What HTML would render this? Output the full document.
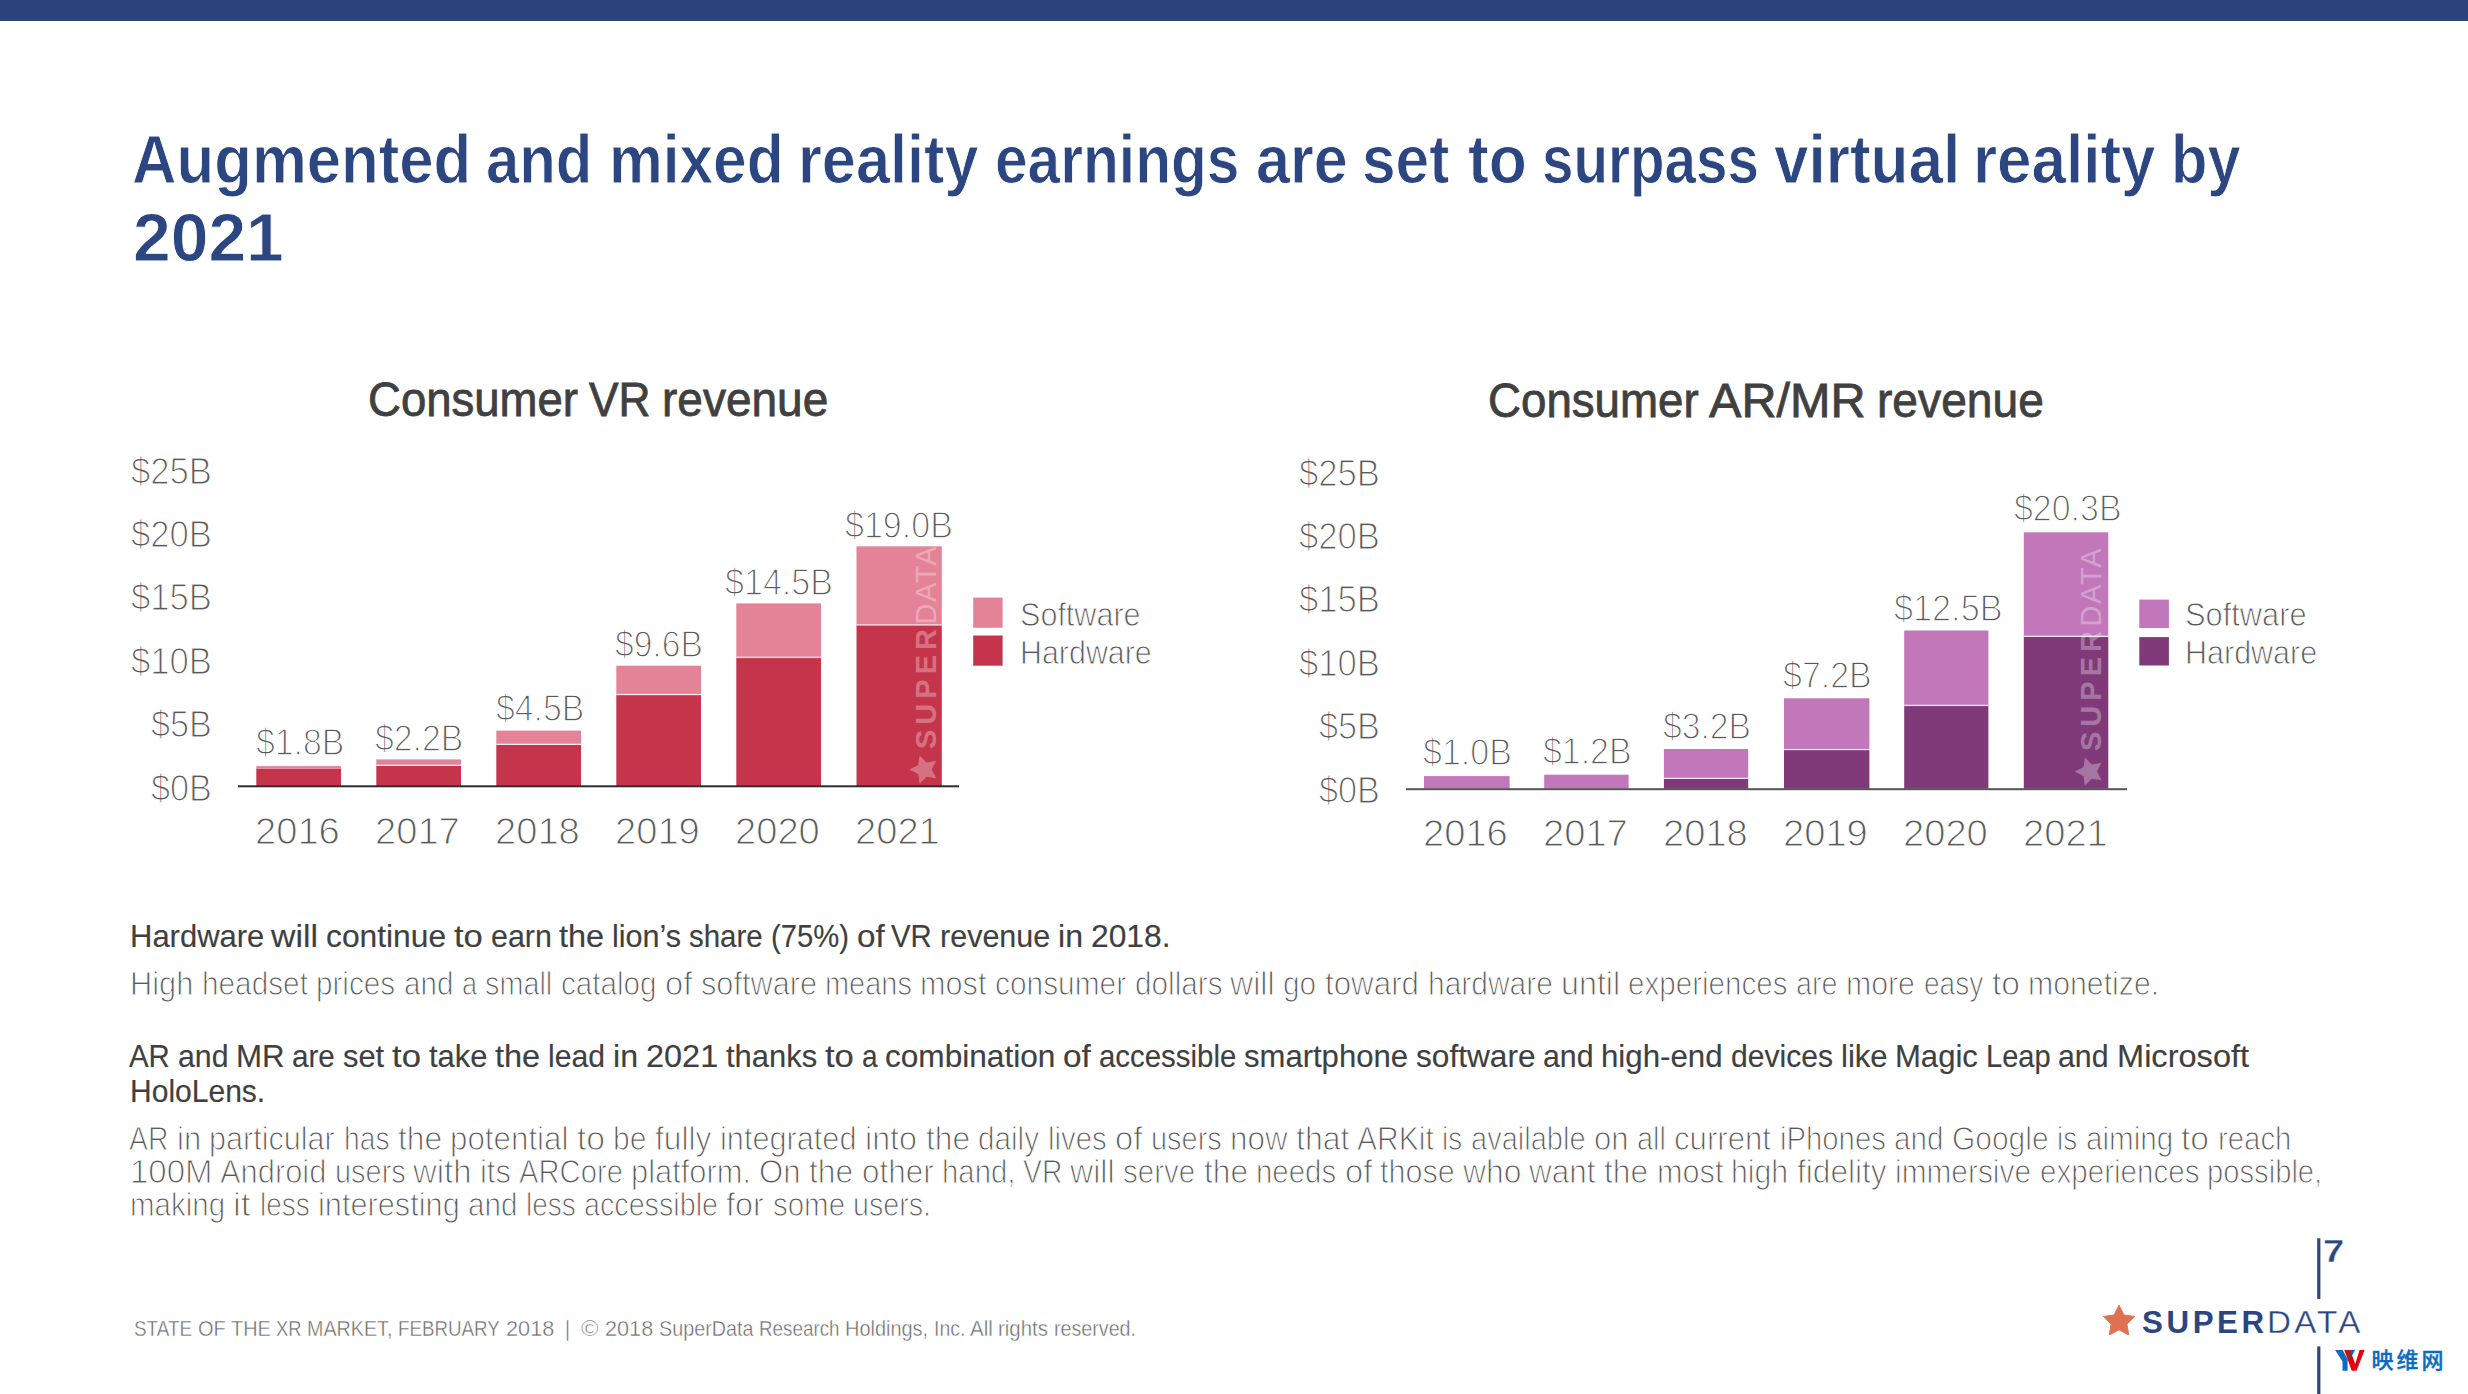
<!DOCTYPE html>
<html lang="en">
<head>
<meta charset="utf-8">
<title>Augmented and mixed reality earnings are set to surpass virtual reality by 2021</title>
<style>
html,body{margin:0;padding:0;background:#fff;}
body{width:2468px;height:1394px;position:relative;overflow:hidden;font-family:"Liberation Sans",sans-serif;}
.t{position:absolute;white-space:pre;line-height:1;transform-origin:0 50%;font-family:"Liberation Sans",sans-serif;}
.bar{position:absolute;left:0;top:0;width:2468px;height:21px;background:#2a437c;}
svg{position:absolute;left:0;top:0;}
.wm{font-family:"Liberation Sans",sans-serif;font-size:29px;fill:#fff;}
.cn{position:absolute;left:2371.5px;top:1346.5px;font-family:"Liberation Sans","Noto Sans CJK SC",sans-serif;font-size:22px;line-height:28px;letter-spacing:3px;color:#0d6cbf;font-weight:500;white-space:nowrap;-webkit-text-stroke:0.35px #0d6cbf;}
</style>
</head>
<body>
<div class="bar"></div>
<svg width="2468" height="1394" viewBox="0 0 2468 1394">
  <!-- VR chart -->
  <g id="vr">
    <g fill="#c4344b">
      <rect x="256.3" y="768.5" width="84.7" height="17.5"/>
      <rect x="376.3" y="765.5" width="84.7" height="20.5"/>
      <rect x="496.3" y="744.4" width="84.7" height="41.6"/>
      <rect x="616.3" y="694.6" width="84.7" height="91.4"/>
      <rect x="736.3" y="656.8" width="84.7" height="129.2"/>
      <rect x="856.5" y="625" width="85.3" height="161"/>
    </g>
    <g fill="#e48398">
      <rect x="256.3" y="766.1" width="84.7" height="2.4"/>
      <rect x="376.3" y="759.4" width="84.7" height="6.1"/>
      <rect x="496.3" y="730.6" width="84.7" height="13.8"/>
      <rect x="616.3" y="665.7" width="84.7" height="28.9"/>
      <rect x="736.3" y="603.4" width="84.7" height="53.4"/>
      <rect x="856.5" y="546.3" width="85.3" height="78.7"/>
    </g>
    <g fill="#fff" opacity="0.82">
      <rect x="376.3" y="764.7" width="84.7" height="1.3"/>
      <rect x="496.3" y="743.7" width="84.7" height="1.3"/>
      <rect x="616.3" y="693.9" width="84.7" height="1.3"/>
      <rect x="736.3" y="656.8" width="84.7" height="1.3"/>
      <rect x="856.5" y="624.3" width="85.3" height="1.3"/>
    </g>
    <rect x="238" y="785.3" width="721" height="2" fill="#2e2e2e"/>
    <rect x="973.2" y="597.6" width="29.4" height="30.2" fill="#e48398"/>
    <rect x="973.2" y="635.5" width="29.4" height="30.2" fill="#c4344b"/>
  </g>
  <!-- AR/MR chart -->
  <g id="ar">
    <g fill="#803a7a">
      <rect x="1663.9" y="778.4" width="84.3" height="10.2"/>
      <rect x="1784" y="749.6" width="85.4" height="39"/>
      <rect x="1904.2" y="705.2" width="84.2" height="83.4"/>
      <rect x="2023.8" y="636.4" width="84.5" height="152.2"/>
    </g>
    <g fill="#c177ba">
      <rect x="1424" y="776.1" width="85.6" height="12.5"/>
      <rect x="1544.2" y="774.7" width="84.4" height="13.9"/>
      <rect x="1663.9" y="749" width="84.3" height="29.4"/>
      <rect x="1784" y="698.3" width="85.4" height="51.3"/>
      <rect x="1904.2" y="630.5" width="84.2" height="74.7"/>
      <rect x="2023.8" y="532.3" width="84.5" height="104.1"/>
    </g>
    <g fill="#fff" opacity="0.82">
      <rect x="1663.9" y="777.7" width="84.3" height="1.3"/>
      <rect x="1784" y="748.9" width="85.4" height="1.3"/>
      <rect x="1904.2" y="704.7" width="84.2" height="1.4"/>
      <rect x="2023.8" y="635.7" width="84.5" height="1.3"/>
    </g>
    <rect x="1406" y="788.2" width="721" height="2" fill="#555"/>
    <rect x="2139.3" y="599.6" width="29.6" height="28.4" fill="#c177ba"/>
    <rect x="2139.3" y="637.1" width="29.6" height="28.4" fill="#803a7a"/>
  </g>
  <!-- watermarks -->
  <g id="wm1" opacity="0.3" fill="#fff">
    <g transform="translate(924.2,769.6) rotate(-90) scale(0.86)"><polygon points="0,-17.3 5.1,-7 16.45,-5.35 8.25,2.65 10.17,14 0,8.65 -10.17,14 -8.25,2.65 -16.45,-5.35 -5.1,-7" stroke-linejoin="round"/></g>
    <text class="wm" transform="translate(935.8,749) rotate(-90)" font-weight="700" textLength="120" lengthAdjust="spacing">SUPER</text>
    <text class="wm" transform="translate(935.8,624.5) rotate(-90)" textLength="78" lengthAdjust="spacing">DATA</text>
  </g>
  <g id="wm2" opacity="0.3" fill="#fff" transform="translate(1165.3,2)">
    <g transform="translate(924.2,769.6) rotate(-90) scale(0.86)"><polygon points="0,-17.3 5.1,-7 16.45,-5.35 8.25,2.65 10.17,14 0,8.65 -10.17,14 -8.25,2.65 -16.45,-5.35 -5.1,-7" stroke-linejoin="round"/></g>
    <text class="wm" transform="translate(935.8,749) rotate(-90)" font-weight="700" textLength="120" lengthAdjust="spacing">SUPER</text>
    <text class="wm" transform="translate(935.8,624.5) rotate(-90)" textLength="78" lengthAdjust="spacing">DATA</text>
  </g>
  <!-- footer -->
  <rect x="2317.2" y="1238.3" width="3.2" height="60.7" fill="#2b4680"/>
  <rect x="2317.2" y="1346.4" width="3.2" height="48" fill="#2b4680"/>
  <g transform="translate(2119,1321.6) scale(0.955)" fill="#e0704f" stroke="#e0704f" stroke-width="1"><polygon points="0,-17.3 5.1,-7 16.45,-5.35 8.25,2.65 10.17,14 0,8.65 -10.17,14 -8.25,2.65 -16.45,-5.35 -5.1,-7" stroke-linejoin="round"/></g>
  <!-- YV logo -->
  <polygon points="2335.1,1350.1 2342.6,1350.1 2347.6,1359.5 2347.6,1370.8 2342.5,1370.8 2342.5,1361.5" fill="#0d6cbf"/>
  <polygon points="2349.8,1350.1 2355.1,1350.1 2350,1359.5 2347.2,1354.5" fill="#0d6cbf"/>
  <polygon points="2344.2,1350.1 2350.2,1350.1 2355.2,1364 2359.6,1350.1 2364.7,1350.1 2356.5,1370.8 2351.7,1370.8" fill="#e60012"/>
  <polygon points="2347.6,1352.3 2350.6,1353.2 2351,1358.6 2348.6,1358.6" fill="#6b3a3a"/>
</svg>
<div class="t" id="t0" style="left:131.6px;top:126px;font-size:67.75px;color:#2b4680;font-weight:700;-webkit-text-stroke:0.9px #fff;transform:scaleX(0.9104);">Augmented</div>
<div class="t" id="t1" style="left:485.5px;top:126px;font-size:67.75px;color:#2b4680;font-weight:700;-webkit-text-stroke:0.9px #fff;transform:scaleX(0.8832);">and</div>
<div class="t" id="t2" style="left:609.4px;top:126px;font-size:67.75px;color:#2b4680;font-weight:700;-webkit-text-stroke:0.9px #fff;transform:scaleX(0.8914);">mixed</div>
<div class="t" id="t3" style="left:798.3px;top:126px;font-size:67.75px;color:#2b4680;font-weight:700;-webkit-text-stroke:0.9px #fff;transform:scaleX(0.9047);">reality</div>
<div class="t" id="t4" style="left:994.8px;top:126px;font-size:67.75px;color:#2b4680;font-weight:700;-webkit-text-stroke:0.9px #fff;transform:scaleX(0.8656);">earnings</div>
<div class="t" id="t5" style="left:1255.9px;top:126px;font-size:67.75px;color:#2b4680;font-weight:700;-webkit-text-stroke:0.9px #fff;transform:scaleX(0.9010);">are</div>
<div class="t" id="t6" style="left:1362.0px;top:126px;font-size:67.75px;color:#2b4680;font-weight:700;-webkit-text-stroke:0.9px #fff;transform:scaleX(0.8915);">set</div>
<div class="t" id="t7" style="left:1468.3px;top:126px;font-size:67.75px;color:#2b4680;font-weight:700;-webkit-text-stroke:0.9px #fff;transform:scaleX(0.9200);">to</div>
<div class="t" id="t8" style="left:1542.1px;top:126px;font-size:67.75px;color:#2b4680;font-weight:700;-webkit-text-stroke:0.9px #fff;transform:scaleX(0.8350);">surpass</div>
<div class="t" id="t9" style="left:1774.4px;top:126px;font-size:67.75px;color:#2b4680;font-weight:700;-webkit-text-stroke:0.9px #fff;transform:scaleX(0.9157);">virtual</div>
<div class="t" id="t10" style="left:1973.2px;top:126px;font-size:67.75px;color:#2b4680;font-weight:700;-webkit-text-stroke:0.9px #fff;transform:scaleX(0.9145);">reality</div>
<div class="t" id="t11" style="left:2171.3px;top:126px;font-size:67.75px;color:#2b4680;font-weight:700;-webkit-text-stroke:0.9px #fff;transform:scaleX(0.8795);">by</div>
<div class="t" id="t12" style="left:133.2px;top:204px;font-size:67.75px;color:#2b4680;font-weight:700;-webkit-text-stroke:0.9px #fff;transform:scaleX(1.0007);">2021</div>
<div class="t" id="t13" style="left:131.0px;top:454px;font-size:36.0px;color:#5a5a5a;-webkit-text-stroke:1.2px #fff;transform:scaleX(0.9625);">$25B</div>
<div class="t" id="t14" style="left:1299.0px;top:456px;font-size:36.0px;color:#5a5a5a;-webkit-text-stroke:1.2px #fff;transform:scaleX(0.9625);">$25B</div>
<div class="t" id="t15" style="left:131.0px;top:517px;font-size:36.0px;color:#5a5a5a;-webkit-text-stroke:1.2px #fff;transform:scaleX(0.9625);">$20B</div>
<div class="t" id="t16" style="left:1299.0px;top:519px;font-size:36.0px;color:#5a5a5a;-webkit-text-stroke:1.2px #fff;transform:scaleX(0.9625);">$20B</div>
<div class="t" id="t17" style="left:131.0px;top:580px;font-size:36.0px;color:#5a5a5a;-webkit-text-stroke:1.2px #fff;transform:scaleX(0.9625);">$15B</div>
<div class="t" id="t18" style="left:1299.0px;top:582px;font-size:36.0px;color:#5a5a5a;-webkit-text-stroke:1.2px #fff;transform:scaleX(0.9625);">$15B</div>
<div class="t" id="t19" style="left:131.0px;top:644px;font-size:36.0px;color:#5a5a5a;-webkit-text-stroke:1.2px #fff;transform:scaleX(0.9625);">$10B</div>
<div class="t" id="t20" style="left:1299.0px;top:646px;font-size:36.0px;color:#5a5a5a;-webkit-text-stroke:1.2px #fff;transform:scaleX(0.9625);">$10B</div>
<div class="t" id="t21" style="left:151.1px;top:707px;font-size:36.0px;color:#5a5a5a;-webkit-text-stroke:1.2px #fff;transform:scaleX(0.9500);">$5B</div>
<div class="t" id="t22" style="left:1319.0px;top:709px;font-size:36.0px;color:#5a5a5a;-webkit-text-stroke:1.2px #fff;transform:scaleX(0.9500);">$5B</div>
<div class="t" id="t23" style="left:151.1px;top:771px;font-size:36.0px;color:#5a5a5a;-webkit-text-stroke:1.2px #fff;transform:scaleX(0.9500);">$0B</div>
<div class="t" id="t24" style="left:1319.0px;top:773px;font-size:36.0px;color:#5a5a5a;-webkit-text-stroke:1.2px #fff;transform:scaleX(0.9500);">$0B</div>
<div class="t" id="t25" style="left:255.4px;top:814px;font-size:36.0px;color:#5a5a5a;-webkit-text-stroke:1.0px #fff;transform:scaleX(1.0592);">2016</div>
<div class="t" id="t26" style="left:1423.4px;top:816px;font-size:36.0px;color:#5a5a5a;-webkit-text-stroke:1.0px #fff;transform:scaleX(1.0592);">2016</div>
<div class="t" id="t27" style="left:375.4px;top:814px;font-size:36.0px;color:#5a5a5a;-webkit-text-stroke:1.0px #fff;transform:scaleX(1.0592);">2017</div>
<div class="t" id="t28" style="left:1543.4px;top:816px;font-size:36.0px;color:#5a5a5a;-webkit-text-stroke:1.0px #fff;transform:scaleX(1.0592);">2017</div>
<div class="t" id="t29" style="left:495.4px;top:814px;font-size:36.0px;color:#5a5a5a;-webkit-text-stroke:1.0px #fff;transform:scaleX(1.0592);">2018</div>
<div class="t" id="t30" style="left:1663.4px;top:816px;font-size:36.0px;color:#5a5a5a;-webkit-text-stroke:1.0px #fff;transform:scaleX(1.0592);">2018</div>
<div class="t" id="t31" style="left:615.4px;top:814px;font-size:36.0px;color:#5a5a5a;-webkit-text-stroke:1.0px #fff;transform:scaleX(1.0592);">2019</div>
<div class="t" id="t32" style="left:1783.4px;top:816px;font-size:36.0px;color:#5a5a5a;-webkit-text-stroke:1.0px #fff;transform:scaleX(1.0592);">2019</div>
<div class="t" id="t33" style="left:735.4px;top:814px;font-size:36.0px;color:#5a5a5a;-webkit-text-stroke:1.0px #fff;transform:scaleX(1.0592);">2020</div>
<div class="t" id="t34" style="left:1903.4px;top:816px;font-size:36.0px;color:#5a5a5a;-webkit-text-stroke:1.0px #fff;transform:scaleX(1.0592);">2020</div>
<div class="t" id="t35" style="left:855.4px;top:814px;font-size:36.0px;color:#5a5a5a;-webkit-text-stroke:1.0px #fff;transform:scaleX(1.0592);">2021</div>
<div class="t" id="t36" style="left:2023.4px;top:816px;font-size:36.0px;color:#5a5a5a;-webkit-text-stroke:1.0px #fff;transform:scaleX(1.0592);">2021</div>
<div class="t" id="t37" style="left:255.6px;top:725px;font-size:36.0px;color:#5a5a5a;-webkit-text-stroke:1.3px #fff;transform:scaleX(0.9389);">$1.8B</div>
<div class="t" id="t38" style="left:375.1px;top:721px;font-size:36.0px;color:#5a5a5a;-webkit-text-stroke:1.3px #fff;transform:scaleX(0.9389);">$2.2B</div>
<div class="t" id="t39" style="left:495.6px;top:691px;font-size:36.0px;color:#5a5a5a;-webkit-text-stroke:1.3px #fff;transform:scaleX(0.9389);">$4.5B</div>
<div class="t" id="t40" style="left:615.3px;top:627px;font-size:36.0px;color:#5a5a5a;-webkit-text-stroke:1.3px #fff;transform:scaleX(0.9333);">$9.6B</div>
<div class="t" id="t41" style="left:725.2px;top:565px;font-size:36.0px;color:#5a5a5a;-webkit-text-stroke:1.3px #fff;transform:scaleX(0.9464);">$14.5B</div>
<div class="t" id="t42" style="left:845.3px;top:508px;font-size:36.0px;color:#5a5a5a;-webkit-text-stroke:1.3px #fff;transform:scaleX(0.9455);">$19.0B</div>
<div class="t" id="t43" style="left:1423.4px;top:735px;font-size:36.0px;color:#5a5a5a;-webkit-text-stroke:1.3px #fff;transform:scaleX(0.9456);">$1.0B</div>
<div class="t" id="t44" style="left:1542.9px;top:734px;font-size:36.0px;color:#5a5a5a;-webkit-text-stroke:1.3px #fff;transform:scaleX(0.9411);">$1.2B</div>
<div class="t" id="t45" style="left:1662.9px;top:709px;font-size:36.0px;color:#5a5a5a;-webkit-text-stroke:1.3px #fff;transform:scaleX(0.9356);">$3.2B</div>
<div class="t" id="t46" style="left:1783.4px;top:658px;font-size:36.0px;color:#5a5a5a;-webkit-text-stroke:1.3px #fff;transform:scaleX(0.9433);">$7.2B</div>
<div class="t" id="t47" style="left:1893.8px;top:591px;font-size:36.0px;color:#5a5a5a;-webkit-text-stroke:1.3px #fff;transform:scaleX(0.9509);">$12.5B</div>
<div class="t" id="t48" style="left:2013.7px;top:491px;font-size:36.0px;color:#5a5a5a;-webkit-text-stroke:1.3px #fff;transform:scaleX(0.9427);">$20.3B</div>
<div class="t" id="t49" style="left:1019.8px;top:599px;font-size:32.5px;color:#5a5a5a;-webkit-text-stroke:0.9px #fff;transform:scaleX(0.9403);">Software</div>
<div class="t" id="t50" style="left:1020.2px;top:637px;font-size:32.5px;color:#5a5a5a;-webkit-text-stroke:0.9px #fff;transform:scaleX(0.9353);">Hardware</div>
<div class="t" id="t51" style="left:2185.3px;top:599px;font-size:32.5px;color:#5a5a5a;-webkit-text-stroke:0.9px #fff;transform:scaleX(0.9476);">Software</div>
<div class="t" id="t52" style="left:2185.4px;top:637px;font-size:32.5px;color:#5a5a5a;-webkit-text-stroke:0.9px #fff;transform:scaleX(0.9382);">Hardware</div>
<div class="t" id="t53" style="left:368.4px;top:376px;font-size:47.25px;color:#404040;-webkit-text-stroke:0.8px #404040;transform:scaleX(0.9636);">Consumer</div>
<div class="t" id="t54" style="left:588.5px;top:376px;font-size:47.25px;color:#404040;-webkit-text-stroke:0.8px #404040;transform:scaleX(0.9373);">VR</div>
<div class="t" id="t55" style="left:661.8px;top:376px;font-size:47.25px;color:#404040;-webkit-text-stroke:0.8px #404040;transform:scaleX(0.9740);">revenue</div>
<div class="t" id="t56" style="left:1487.8px;top:377px;font-size:47.25px;color:#404040;-webkit-text-stroke:0.8px #404040;transform:scaleX(0.9666);">Consumer</div>
<div class="t" id="t57" style="left:1708.8px;top:377px;font-size:47.25px;color:#404040;-webkit-text-stroke:0.8px #404040;transform:scaleX(1.0288);">AR/MR</div>
<div class="t" id="t58" style="left:1877.3px;top:377px;font-size:47.25px;color:#404040;-webkit-text-stroke:0.8px #404040;transform:scaleX(0.9770);">revenue</div>
<div class="t" id="t59" style="left:129.7px;top:921px;font-size:31.55px;color:#404040;-webkit-text-stroke:0.15px #404040;transform:scaleX(0.9824);">Hardware</div>
<div class="t" id="t60" style="left:271.3px;top:921px;font-size:31.55px;color:#404040;-webkit-text-stroke:0.15px #404040;transform:scaleX(1.0726);">will</div>
<div class="t" id="t61" style="left:326.1px;top:921px;font-size:31.55px;color:#404040;-webkit-text-stroke:0.15px #404040;transform:scaleX(1.0068);">continue</div>
<div class="t" id="t62" style="left:454.0px;top:921px;font-size:31.55px;color:#404040;-webkit-text-stroke:0.15px #404040;transform:scaleX(1.0973);">to</div>
<div class="t" id="t63" style="left:490.7px;top:921px;font-size:31.55px;color:#404040;-webkit-text-stroke:0.15px #404040;transform:scaleX(0.9628);">earn</div>
<div class="t" id="t64" style="left:559.4px;top:921px;font-size:31.55px;color:#404040;-webkit-text-stroke:0.15px #404040;transform:scaleX(1.0290);">the</div>
<div class="t" id="t65" style="left:612.3px;top:921px;font-size:31.55px;color:#404040;-webkit-text-stroke:0.15px #404040;transform:scaleX(0.9692);">lion’s</div>
<div class="t" id="t66" style="left:689.3px;top:921px;font-size:31.55px;color:#404040;-webkit-text-stroke:0.15px #404040;transform:scaleX(0.9340);">share</div>
<div class="t" id="t67" style="left:770.9px;top:921px;font-size:31.55px;color:#404040;-webkit-text-stroke:0.15px #404040;transform:scaleX(0.9254);">(75%)</div>
<div class="t" id="t68" style="left:856.6px;top:921px;font-size:31.55px;color:#404040;-webkit-text-stroke:0.15px #404040;transform:scaleX(1.0536);">of</div>
<div class="t" id="t69" style="left:891.0px;top:921px;font-size:31.55px;color:#404040;-webkit-text-stroke:0.15px #404040;transform:scaleX(0.9311);">VR</div>
<div class="t" id="t70" style="left:939.6px;top:921px;font-size:31.55px;color:#404040;-webkit-text-stroke:0.15px #404040;transform:scaleX(0.9675);">revenue</div>
<div class="t" id="t71" style="left:1057.8px;top:921px;font-size:31.55px;color:#404040;-webkit-text-stroke:0.15px #404040;transform:scaleX(1.0173);">in</div>
<div class="t" id="t72" style="left:1090.6px;top:921px;font-size:31.55px;color:#404040;-webkit-text-stroke:0.15px #404040;transform:scaleX(1.0067);">2018.</div>
<div class="t" id="t73" style="left:129.8px;top:968px;font-size:32.5px;color:#5a5a5a;-webkit-text-stroke:1.0px #fff;transform:scaleX(0.9474);">High</div>
<div class="t" id="t74" style="left:201.6px;top:968px;font-size:32.5px;color:#5a5a5a;-webkit-text-stroke:1.0px #fff;transform:scaleX(0.9156);">headset</div>
<div class="t" id="t75" style="left:316.0px;top:968px;font-size:32.5px;color:#5a5a5a;-webkit-text-stroke:1.0px #fff;transform:scaleX(0.9126);">prices</div>
<div class="t" id="t76" style="left:403.6px;top:968px;font-size:32.5px;color:#5a5a5a;-webkit-text-stroke:1.0px #fff;transform:scaleX(0.9119);">and</div>
<div class="t" id="t77" style="left:461.5px;top:968px;font-size:32.5px;color:#5a5a5a;-webkit-text-stroke:1.0px #fff;transform:scaleX(0.8358);">a</div>
<div class="t" id="t78" style="left:485.0px;top:968px;font-size:32.5px;color:#5a5a5a;-webkit-text-stroke:1.0px #fff;transform:scaleX(0.8868);">small</div>
<div class="t" id="t79" style="left:560.8px;top:968px;font-size:32.5px;color:#5a5a5a;-webkit-text-stroke:1.0px #fff;transform:scaleX(0.9121);">catalog</div>
<div class="t" id="t80" style="left:664.8px;top:968px;font-size:32.5px;color:#5a5a5a;-webkit-text-stroke:1.0px #fff;transform:scaleX(1.0044);">of</div>
<div class="t" id="t81" style="left:700.5px;top:968px;font-size:32.5px;color:#5a5a5a;-webkit-text-stroke:1.0px #fff;transform:scaleX(0.9453);">software</div>
<div class="t" id="t82" style="left:825.1px;top:968px;font-size:32.5px;color:#5a5a5a;-webkit-text-stroke:1.0px #fff;transform:scaleX(0.8907);">means</div>
<div class="t" id="t83" style="left:920.4px;top:968px;font-size:32.5px;color:#5a5a5a;-webkit-text-stroke:1.0px #fff;transform:scaleX(0.9438);">most</div>
<div class="t" id="t84" style="left:995.3px;top:968px;font-size:32.5px;color:#5a5a5a;-webkit-text-stroke:1.0px #fff;transform:scaleX(0.9189);">consumer</div>
<div class="t" id="t85" style="left:1134.9px;top:968px;font-size:32.5px;color:#5a5a5a;-webkit-text-stroke:1.0px #fff;transform:scaleX(0.9151);">dollars</div>
<div class="t" id="t86" style="left:1230.3px;top:968px;font-size:32.5px;color:#5a5a5a;-webkit-text-stroke:1.0px #fff;transform:scaleX(0.9876);">will</div>
<div class="t" id="t87" style="left:1283.4px;top:968px;font-size:32.5px;color:#5a5a5a;-webkit-text-stroke:1.0px #fff;transform:scaleX(0.9167);">go</div>
<div class="t" id="t88" style="left:1325.0px;top:968px;font-size:32.5px;color:#5a5a5a;-webkit-text-stroke:1.0px #fff;transform:scaleX(0.9638);">toward</div>
<div class="t" id="t89" style="left:1427.5px;top:968px;font-size:32.5px;color:#5a5a5a;-webkit-text-stroke:1.0px #fff;transform:scaleX(0.9214);">hardware</div>
<div class="t" id="t90" style="left:1560.8px;top:968px;font-size:32.5px;color:#5a5a5a;-webkit-text-stroke:1.0px #fff;transform:scaleX(0.9926);">until</div>
<div class="t" id="t91" style="left:1628.4px;top:968px;font-size:32.5px;color:#5a5a5a;-webkit-text-stroke:1.0px #fff;transform:scaleX(0.9104);">experiences</div>
<div class="t" id="t92" style="left:1796.4px;top:968px;font-size:32.5px;color:#5a5a5a;-webkit-text-stroke:1.0px #fff;transform:scaleX(0.8842);">are</div>
<div class="t" id="t93" style="left:1846.4px;top:968px;font-size:32.5px;color:#5a5a5a;-webkit-text-stroke:1.0px #fff;transform:scaleX(0.9312);">more</div>
<div class="t" id="t94" style="left:1923.8px;top:968px;font-size:32.5px;color:#5a5a5a;-webkit-text-stroke:1.0px #fff;transform:scaleX(0.8630);">easy</div>
<div class="t" id="t95" style="left:1991.5px;top:968px;font-size:32.5px;color:#5a5a5a;-webkit-text-stroke:1.0px #fff;transform:scaleX(1.0350);">to</div>
<div class="t" id="t96" style="left:2028.0px;top:968px;font-size:32.5px;color:#5a5a5a;-webkit-text-stroke:1.0px #fff;transform:scaleX(0.9308);">monetize.</div>
<div class="t" id="t97" style="left:128.9px;top:1041px;font-size:31.55px;color:#404040;-webkit-text-stroke:0.15px #404040;transform:scaleX(0.9319);">AR</div>
<div class="t" id="t98" style="left:177.6px;top:1041px;font-size:31.55px;color:#404040;-webkit-text-stroke:0.15px #404040;transform:scaleX(0.9587);">and</div>
<div class="t" id="t99" style="left:235.9px;top:1041px;font-size:31.55px;color:#404040;-webkit-text-stroke:0.15px #404040;transform:scaleX(0.9913);">MR</div>
<div class="t" id="t100" style="left:292.4px;top:1041px;font-size:31.55px;color:#404040;-webkit-text-stroke:0.15px #404040;transform:scaleX(0.9395);">are</div>
<div class="t" id="t101" style="left:343.1px;top:1041px;font-size:31.55px;color:#404040;-webkit-text-stroke:0.15px #404040;transform:scaleX(0.9776);">set</div>
<div class="t" id="t102" style="left:392.1px;top:1041px;font-size:31.55px;color:#404040;-webkit-text-stroke:0.15px #404040;transform:scaleX(1.0982);">to</div>
<div class="t" id="t103" style="left:428.8px;top:1041px;font-size:31.55px;color:#404040;-webkit-text-stroke:0.15px #404040;transform:scaleX(0.9796);">take</div>
<div class="t" id="t104" style="left:495.1px;top:1041px;font-size:31.55px;color:#404040;-webkit-text-stroke:0.15px #404040;transform:scaleX(1.0299);">the</div>
<div class="t" id="t105" style="left:548.1px;top:1041px;font-size:31.55px;color:#404040;-webkit-text-stroke:0.15px #404040;transform:scaleX(0.9549);">lead</div>
<div class="t" id="t106" style="left:612.9px;top:1041px;font-size:31.55px;color:#404040;-webkit-text-stroke:0.15px #404040;transform:scaleX(1.0181);">in</div>
<div class="t" id="t107" style="left:645.7px;top:1041px;font-size:31.55px;color:#404040;-webkit-text-stroke:0.15px #404040;transform:scaleX(1.0287);">2021</div>
<div class="t" id="t108" style="left:725.8px;top:1041px;font-size:31.55px;color:#404040;-webkit-text-stroke:0.15px #404040;transform:scaleX(0.9809);">thanks</div>
<div class="t" id="t109" style="left:824.8px;top:1041px;font-size:31.55px;color:#404040;-webkit-text-stroke:0.15px #404040;transform:scaleX(1.0976);">to</div>
<div class="t" id="t110" style="left:861.5px;top:1041px;font-size:31.55px;color:#404040;-webkit-text-stroke:0.15px #404040;transform:scaleX(0.8867);">a</div>
<div class="t" id="t111" style="left:884.9px;top:1041px;font-size:31.55px;color:#404040;-webkit-text-stroke:0.15px #404040;transform:scaleX(1.0015);">combination</div>
<div class="t" id="t112" style="left:1063.1px;top:1041px;font-size:31.55px;color:#404040;-webkit-text-stroke:0.15px #404040;transform:scaleX(1.0551);">of</div>
<div class="t" id="t113" style="left:1098.8px;top:1041px;font-size:31.55px;color:#404040;-webkit-text-stroke:0.15px #404040;transform:scaleX(0.9320);">accessible</div>
<div class="t" id="t114" style="left:1243.9px;top:1041px;font-size:31.55px;color:#404040;-webkit-text-stroke:0.15px #404040;transform:scaleX(0.9842);">smartphone</div>
<div class="t" id="t115" style="left:1415.7px;top:1041px;font-size:31.55px;color:#404040;-webkit-text-stroke:0.15px #404040;transform:scaleX(1.0029);">software</div>
<div class="t" id="t116" style="left:1543.1px;top:1041px;font-size:31.55px;color:#404040;-webkit-text-stroke:0.15px #404040;transform:scaleX(0.9587);">and</div>
<div class="t" id="t117" style="left:1601.4px;top:1041px;font-size:31.55px;color:#404040;-webkit-text-stroke:0.15px #404040;transform:scaleX(0.9903);">high-end</div>
<div class="t" id="t118" style="left:1730.8px;top:1041px;font-size:31.55px;color:#404040;-webkit-text-stroke:0.15px #404040;transform:scaleX(0.9532);">devices</div>
<div class="t" id="t119" style="left:1840.6px;top:1041px;font-size:31.55px;color:#404040;-webkit-text-stroke:0.15px #404040;transform:scaleX(0.9852);">like</div>
<div class="t" id="t120" style="left:1895.1px;top:1041px;font-size:31.55px;color:#404040;-webkit-text-stroke:0.15px #404040;transform:scaleX(0.9843);">Magic</div>
<div class="t" id="t121" style="left:1985.8px;top:1041px;font-size:31.55px;color:#404040;-webkit-text-stroke:0.15px #404040;transform:scaleX(0.9195);">Leap</div>
<div class="t" id="t122" style="left:2058.2px;top:1041px;font-size:31.55px;color:#404040;-webkit-text-stroke:0.15px #404040;transform:scaleX(0.9587);">and</div>
<div class="t" id="t123" style="left:2116.5px;top:1041px;font-size:31.55px;color:#404040;-webkit-text-stroke:0.15px #404040;transform:scaleX(1.0324);">Microsoft</div>
<div class="t" id="t124" style="left:129.9px;top:1076px;font-size:31.55px;color:#404040;-webkit-text-stroke:0.15px #404040;transform:scaleX(0.9517);">HoloLens.</div>
<div class="t" id="t125" style="left:128.8px;top:1123px;font-size:32.5px;color:#5a5a5a;-webkit-text-stroke:1.0px #fff;transform:scaleX(0.8727);">AR</div>
<div class="t" id="t126" style="left:176.7px;top:1123px;font-size:32.5px;color:#5a5a5a;-webkit-text-stroke:1.0px #fff;transform:scaleX(0.9533);">in</div>
<div class="t" id="t127" style="left:209.3px;top:1123px;font-size:32.5px;color:#5a5a5a;-webkit-text-stroke:1.0px #fff;transform:scaleX(0.9407);">particular</div>
<div class="t" id="t128" style="left:343.5px;top:1123px;font-size:32.5px;color:#5a5a5a;-webkit-text-stroke:1.0px #fff;transform:scaleX(0.8692);">has</div>
<div class="t" id="t129" style="left:397.5px;top:1123px;font-size:32.5px;color:#5a5a5a;-webkit-text-stroke:1.0px #fff;transform:scaleX(0.9767);">the</div>
<div class="t" id="t130" style="left:450.0px;top:1123px;font-size:32.5px;color:#5a5a5a;-webkit-text-stroke:1.0px #fff;transform:scaleX(0.9637);">potential</div>
<div class="t" id="t131" style="left:576.9px;top:1123px;font-size:32.5px;color:#5a5a5a;-webkit-text-stroke:1.0px #fff;transform:scaleX(1.0352);">to</div>
<div class="t" id="t132" style="left:613.4px;top:1123px;font-size:32.5px;color:#5a5a5a;-webkit-text-stroke:1.0px #fff;transform:scaleX(0.9258);">be</div>
<div class="t" id="t133" style="left:655.4px;top:1123px;font-size:32.5px;color:#5a5a5a;-webkit-text-stroke:1.0px #fff;transform:scaleX(0.9767);">fully</div>
<div class="t" id="t134" style="left:720.3px;top:1123px;font-size:32.5px;color:#5a5a5a;-webkit-text-stroke:1.0px #fff;transform:scaleX(0.9441);">integrated</div>
<div class="t" id="t135" style="left:865.2px;top:1123px;font-size:32.5px;color:#5a5a5a;-webkit-text-stroke:1.0px #fff;transform:scaleX(0.9916);">into</div>
<div class="t" id="t136" style="left:925.6px;top:1123px;font-size:32.5px;color:#5a5a5a;-webkit-text-stroke:1.0px #fff;transform:scaleX(0.9767);">the</div>
<div class="t" id="t137" style="left:978.2px;top:1123px;font-size:32.5px;color:#5a5a5a;-webkit-text-stroke:1.0px #fff;transform:scaleX(0.9131);">daily</div>
<div class="t" id="t138" style="left:1047.7px;top:1123px;font-size:32.5px;color:#5a5a5a;-webkit-text-stroke:1.0px #fff;transform:scaleX(0.9021);">lives</div>
<div class="t" id="t139" style="left:1114.8px;top:1123px;font-size:32.5px;color:#5a5a5a;-webkit-text-stroke:1.0px #fff;transform:scaleX(1.0046);">of</div>
<div class="t" id="t140" style="left:1150.5px;top:1123px;font-size:32.5px;color:#5a5a5a;-webkit-text-stroke:1.0px #fff;transform:scaleX(0.8910);">users</div>
<div class="t" id="t141" style="left:1229.8px;top:1123px;font-size:32.5px;color:#5a5a5a;-webkit-text-stroke:1.0px #fff;transform:scaleX(0.9659);">now</div>
<div class="t" id="t142" style="left:1295.8px;top:1123px;font-size:32.5px;color:#5a5a5a;-webkit-text-stroke:1.0px #fff;transform:scaleX(0.9864);">that</div>
<div class="t" id="t143" style="left:1356.7px;top:1123px;font-size:32.5px;color:#5a5a5a;-webkit-text-stroke:1.0px #fff;transform:scaleX(0.9250);">ARKit</div>
<div class="t" id="t144" style="left:1442.0px;top:1123px;font-size:32.5px;color:#5a5a5a;-webkit-text-stroke:1.0px #fff;transform:scaleX(0.8608);">is</div>
<div class="t" id="t145" style="left:1470.7px;top:1123px;font-size:32.5px;color:#5a5a5a;-webkit-text-stroke:1.0px #fff;transform:scaleX(0.8935);">available</div>
<div class="t" id="t146" style="left:1593.8px;top:1123px;font-size:32.5px;color:#5a5a5a;-webkit-text-stroke:1.0px #fff;transform:scaleX(0.9564);">on</div>
<div class="t" id="t147" style="left:1636.8px;top:1123px;font-size:32.5px;color:#5a5a5a;-webkit-text-stroke:1.0px #fff;transform:scaleX(0.8886);">all</div>
<div class="t" id="t148" style="left:1674.2px;top:1123px;font-size:32.5px;color:#5a5a5a;-webkit-text-stroke:1.0px #fff;transform:scaleX(0.9586);">current</div>
<div class="t" id="t149" style="left:1779.6px;top:1123px;font-size:32.5px;color:#5a5a5a;-webkit-text-stroke:1.0px #fff;transform:scaleX(0.9010);">iPhones</div>
<div class="t" id="t150" style="left:1893.9px;top:1123px;font-size:32.5px;color:#5a5a5a;-webkit-text-stroke:1.0px #fff;transform:scaleX(0.9121);">and</div>
<div class="t" id="t151" style="left:1951.8px;top:1123px;font-size:32.5px;color:#5a5a5a;-webkit-text-stroke:1.0px #fff;transform:scaleX(0.9217);">Google</div>
<div class="t" id="t152" style="left:2056.9px;top:1123px;font-size:32.5px;color:#5a5a5a;-webkit-text-stroke:1.0px #fff;transform:scaleX(0.8608);">is</div>
<div class="t" id="t153" style="left:2085.6px;top:1123px;font-size:32.5px;color:#5a5a5a;-webkit-text-stroke:1.0px #fff;transform:scaleX(0.9109);">aiming</div>
<div class="t" id="t154" style="left:2181.2px;top:1123px;font-size:32.5px;color:#5a5a5a;-webkit-text-stroke:1.0px #fff;transform:scaleX(1.0352);">to</div>
<div class="t" id="t155" style="left:2217.7px;top:1123px;font-size:32.5px;color:#5a5a5a;-webkit-text-stroke:1.0px #fff;transform:scaleX(0.9029);">reach</div>
<div class="t" id="t156" style="left:129.8px;top:1156px;font-size:32.5px;color:#5a5a5a;-webkit-text-stroke:1.0px #fff;transform:scaleX(1.0156);">100M</div>
<div class="t" id="t157" style="left:219.9px;top:1156px;font-size:32.5px;color:#5a5a5a;-webkit-text-stroke:1.0px #fff;transform:scaleX(0.9492);">Android</div>
<div class="t" id="t158" style="left:334.6px;top:1156px;font-size:32.5px;color:#5a5a5a;-webkit-text-stroke:1.0px #fff;transform:scaleX(0.8905);">users</div>
<div class="t" id="t159" style="left:413.2px;top:1156px;font-size:32.5px;color:#5a5a5a;-webkit-text-stroke:1.0px #fff;transform:scaleX(1.0141);">with</div>
<div class="t" id="t160" style="left:480.3px;top:1156px;font-size:32.5px;color:#5a5a5a;-webkit-text-stroke:1.0px #fff;transform:scaleX(0.9500);">its</div>
<div class="t" id="t161" style="left:518.6px;top:1156px;font-size:32.5px;color:#5a5a5a;-webkit-text-stroke:1.0px #fff;transform:scaleX(0.8986);">ARCore</div>
<div class="t" id="t162" style="left:630.9px;top:1156px;font-size:32.5px;color:#5a5a5a;-webkit-text-stroke:1.0px #fff;transform:scaleX(0.9495);">platform.</div>
<div class="t" id="t163" style="left:759.4px;top:1156px;font-size:32.5px;color:#5a5a5a;-webkit-text-stroke:1.0px #fff;transform:scaleX(0.9566);">On</div>
<div class="t" id="t164" style="left:809.3px;top:1156px;font-size:32.5px;color:#5a5a5a;-webkit-text-stroke:1.0px #fff;transform:scaleX(0.9761);">the</div>
<div class="t" id="t165" style="left:861.9px;top:1156px;font-size:32.5px;color:#5a5a5a;-webkit-text-stroke:1.0px #fff;transform:scaleX(0.9664);">other</div>
<div class="t" id="t166" style="left:941.9px;top:1156px;font-size:32.5px;color:#5a5a5a;-webkit-text-stroke:1.0px #fff;transform:scaleX(0.9026);">hand,</div>
<div class="t" id="t167" style="left:1022.7px;top:1156px;font-size:32.5px;color:#5a5a5a;-webkit-text-stroke:1.0px #fff;transform:scaleX(0.8722);">VR</div>
<div class="t" id="t168" style="left:1069.9px;top:1156px;font-size:32.5px;color:#5a5a5a;-webkit-text-stroke:1.0px #fff;transform:scaleX(0.9876);">will</div>
<div class="t" id="t169" style="left:1122.9px;top:1156px;font-size:32.5px;color:#5a5a5a;-webkit-text-stroke:1.0px #fff;transform:scaleX(0.9068);">serve</div>
<div class="t" id="t170" style="left:1203.5px;top:1156px;font-size:32.5px;color:#5a5a5a;-webkit-text-stroke:1.0px #fff;transform:scaleX(0.9758);">the</div>
<div class="t" id="t171" style="left:1256.0px;top:1156px;font-size:32.5px;color:#5a5a5a;-webkit-text-stroke:1.0px #fff;transform:scaleX(0.9046);">needs</div>
<div class="t" id="t172" style="left:1344.6px;top:1156px;font-size:32.5px;color:#5a5a5a;-webkit-text-stroke:1.0px #fff;transform:scaleX(1.0041);">of</div>
<div class="t" id="t173" style="left:1380.3px;top:1156px;font-size:32.5px;color:#5a5a5a;-webkit-text-stroke:1.0px #fff;transform:scaleX(0.9401);">those</div>
<div class="t" id="t174" style="left:1462.8px;top:1156px;font-size:32.5px;color:#5a5a5a;-webkit-text-stroke:1.0px #fff;transform:scaleX(0.9795);">who</div>
<div class="t" id="t175" style="left:1529.0px;top:1156px;font-size:32.5px;color:#5a5a5a;-webkit-text-stroke:1.0px #fff;transform:scaleX(0.9675);">want</div>
<div class="t" id="t176" style="left:1603.9px;top:1156px;font-size:32.5px;color:#5a5a5a;-webkit-text-stroke:1.0px #fff;transform:scaleX(0.9761);">the</div>
<div class="t" id="t177" style="left:1656.5px;top:1156px;font-size:32.5px;color:#5a5a5a;-webkit-text-stroke:1.0px #fff;transform:scaleX(0.9433);">most</div>
<div class="t" id="t178" style="left:1731.3px;top:1156px;font-size:32.5px;color:#5a5a5a;-webkit-text-stroke:1.0px #fff;transform:scaleX(0.9305);">high</div>
<div class="t" id="t179" style="left:1797.0px;top:1156px;font-size:32.5px;color:#5a5a5a;-webkit-text-stroke:1.0px #fff;transform:scaleX(0.9729);">fidelity</div>
<div class="t" id="t180" style="left:1895.1px;top:1156px;font-size:32.5px;color:#5a5a5a;-webkit-text-stroke:1.0px #fff;transform:scaleX(0.9184);">immersive</div>
<div class="t" id="t181" style="left:2039.5px;top:1156px;font-size:32.5px;color:#5a5a5a;-webkit-text-stroke:1.0px #fff;transform:scaleX(0.9100);">experiences</div>
<div class="t" id="t182" style="left:2207.4px;top:1156px;font-size:32.5px;color:#5a5a5a;-webkit-text-stroke:1.0px #fff;transform:scaleX(0.8982);">possible,</div>
<div class="t" id="t183" style="left:129.8px;top:1189px;font-size:32.5px;color:#5a5a5a;-webkit-text-stroke:1.0px #fff;transform:scaleX(0.9075);">making</div>
<div class="t" id="t184" style="left:233.4px;top:1189px;font-size:32.5px;color:#5a5a5a;-webkit-text-stroke:1.0px #fff;transform:scaleX(1.0858);">it</div>
<div class="t" id="t185" style="left:259.5px;top:1189px;font-size:32.5px;color:#5a5a5a;-webkit-text-stroke:1.0px #fff;transform:scaleX(0.8599);">less</div>
<div class="t" id="t186" style="left:317.6px;top:1189px;font-size:32.5px;color:#5a5a5a;-webkit-text-stroke:1.0px #fff;transform:scaleX(0.9453);">interesting</div>
<div class="t" id="t187" style="left:467.8px;top:1189px;font-size:32.5px;color:#5a5a5a;-webkit-text-stroke:1.0px #fff;transform:scaleX(0.9119);">and</div>
<div class="t" id="t188" style="left:525.7px;top:1189px;font-size:32.5px;color:#5a5a5a;-webkit-text-stroke:1.0px #fff;transform:scaleX(0.8599);">less</div>
<div class="t" id="t189" style="left:583.9px;top:1189px;font-size:32.5px;color:#5a5a5a;-webkit-text-stroke:1.0px #fff;transform:scaleX(0.8831);">accessible</div>
<div class="t" id="t190" style="left:726.3px;top:1189px;font-size:32.5px;color:#5a5a5a;-webkit-text-stroke:1.0px #fff;transform:scaleX(0.9957);">for</div>
<div class="t" id="t191" style="left:772.6px;top:1189px;font-size:32.5px;color:#5a5a5a;-webkit-text-stroke:1.0px #fff;transform:scaleX(0.9067);">some</div>
<div class="t" id="t192" style="left:853.1px;top:1189px;font-size:32.5px;color:#5a5a5a;-webkit-text-stroke:1.0px #fff;transform:scaleX(0.8821);">users.</div>
<div class="t" id="t193" style="left:134.1px;top:1317px;font-size:22.75px;color:#6e6e6e;-webkit-text-stroke:0.4px #fff;transform:scaleX(0.8292);">STATE</div>
<div class="t" id="t194" style="left:197.7px;top:1317px;font-size:22.75px;color:#6e6e6e;-webkit-text-stroke:0.4px #fff;transform:scaleX(0.8787);">OF</div>
<div class="t" id="t195" style="left:230.5px;top:1317px;font-size:22.75px;color:#6e6e6e;-webkit-text-stroke:0.4px #fff;transform:scaleX(0.8751);">THE</div>
<div class="t" id="t196" style="left:275.9px;top:1317px;font-size:22.75px;color:#6e6e6e;-webkit-text-stroke:0.4px #fff;transform:scaleX(0.8094);">XR</div>
<div class="t" id="t197" style="left:307.2px;top:1317px;font-size:22.75px;color:#6e6e6e;-webkit-text-stroke:0.4px #fff;transform:scaleX(0.8664);">MARKET,</div>
<div class="t" id="t198" style="left:398.2px;top:1317px;font-size:22.75px;color:#6e6e6e;-webkit-text-stroke:0.4px #fff;transform:scaleX(0.8242);">FEBRUARY</div>
<div class="t" id="t199" style="left:505.6px;top:1317px;font-size:22.75px;color:#6e6e6e;-webkit-text-stroke:0.4px #fff;transform:scaleX(0.9534);">2018</div>
<div class="t" id="t200" style="left:565.2px;top:1317px;font-size:22.75px;color:#6e6e6e;-webkit-text-stroke:0.4px #fff;transform:scaleX(0.8396);">|</div>
<div class="t" id="t201" style="left:581.4px;top:1317px;font-size:22.75px;color:#6e6e6e;-webkit-text-stroke:0.4px #fff;transform:scaleX(1.0441);">©</div>
<div class="t" id="t202" style="left:604.6px;top:1317px;font-size:22.75px;color:#6e6e6e;-webkit-text-stroke:0.4px #fff;transform:scaleX(0.9532);">2018</div>
<div class="t" id="t203" style="left:658.5px;top:1317px;font-size:22.75px;color:#6e6e6e;-webkit-text-stroke:0.4px #fff;transform:scaleX(0.8683);">SuperData</div>
<div class="t" id="t204" style="left:758.6px;top:1317px;font-size:22.75px;color:#6e6e6e;-webkit-text-stroke:0.4px #fff;transform:scaleX(0.8276);">Research</div>
<div class="t" id="t205" style="left:844.8px;top:1317px;font-size:22.75px;color:#6e6e6e;-webkit-text-stroke:0.4px #fff;transform:scaleX(0.8763);">Holdings,</div>
<div class="t" id="t206" style="left:933.5px;top:1317px;font-size:22.75px;color:#6e6e6e;-webkit-text-stroke:0.4px #fff;transform:scaleX(0.8551);">Inc.</div>
<div class="t" id="t207" style="left:969.8px;top:1317px;font-size:22.75px;color:#6e6e6e;-webkit-text-stroke:0.4px #fff;transform:scaleX(0.9001);">All</div>
<div class="t" id="t208" style="left:998.2px;top:1317px;font-size:22.75px;color:#6e6e6e;-webkit-text-stroke:0.4px #fff;transform:scaleX(0.8963);">rights</div>
<div class="t" id="t209" style="left:1053.7px;top:1317px;font-size:22.75px;color:#6e6e6e;-webkit-text-stroke:0.4px #fff;transform:scaleX(0.8647);">reserved.</div>
<div class="t" id="t210" style="left:2141.5px;top:1307px;font-size:30.5px;color:#2b4680;font-weight:700;letter-spacing:3.5px;transform:scaleX(1.0256);">SUPER</div>
<div class="t" id="t211" style="left:2267.3px;top:1307px;font-size:30.5px;color:#2b4680;-webkit-text-stroke:0.3px #fff;letter-spacing:3.0px;transform:scaleX(1.0866);">DATA</div>
<div class="t" id="t212" style="left:2323.2px;top:1236px;font-size:30.5px;color:#2b4680;font-weight:700;-webkit-text-stroke:0.4px #fff;transform:scaleX(1.2538);">7</div>
<div class="cn">映维网</div>
</body>
</html>
